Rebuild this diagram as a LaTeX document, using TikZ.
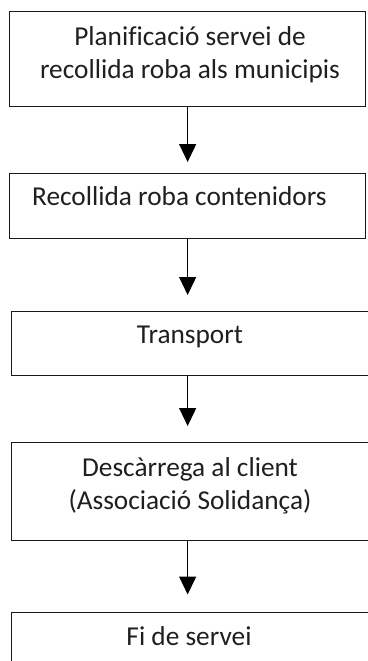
\documentclass[tikz,border=0pt]{standalone}
\usepackage{fontspec}
\setmainfont{Carlito}[Ligatures=NoCommon]
\usetikzlibrary{arrows.meta}
\begin{document}
\begin{tikzpicture}[x=1pt,y=-1pt,
  box/.style={draw=black!90, line width=1.3pt, rectangle, inner sep=0pt, anchor=north west},
  txt/.style={font=\fontsize{27.3}{32.5}\selectfont, inner sep=0pt, anchor=base, text=black!88, align=center},
  flow/.style={-{Triangle[width=17pt,length=18pt]}, line width=1.3pt, draw=black}]
\useasboundingbox (0,0) rectangle (367,661);
\node[box, minimum width=356pt, minimum height=95pt] (b1) at (9,11) {};
\node[box, minimum width=356pt, minimum height=65pt] (b2) at (9,173) {};
\node[box, minimum width=370pt, minimum height=64pt] (b3) at (11,311) {};
\node[box, minimum width=370pt, minimum height=98pt] (b4) at (11,442) {};
\node[box, minimum width=370pt, minimum height=90pt] (b5) at (11,611.5) {};
\node[txt] (t1) at (190,78) {Planificació servei de\\recollida roba als municipis};
\node[txt, anchor=base west] (t2) at (32,205) {Recollida roba contenidors};
\node[txt] (t3) at (190,343) {Transport};
\node[txt] (t4) at (190,509) {Descàrrega al client\\(Associació Solidança)};
\node[txt] (t5) at (189,645) {Fi de servei};
\draw[flow, shorten >=11pt] (b1.south) -- (b2.north);
\draw[flow, shorten >=16pt] (b2.south) -- (b3.north -| b2.south);
\draw[flow, shorten >=16pt] (b3.south -| b2.south) -- (b4.north -| b2.south);
\draw[flow, shorten >=17pt] (b4.south -| b2.south) -- (b5.north -| b2.south);
\end{tikzpicture}
\end{document}
